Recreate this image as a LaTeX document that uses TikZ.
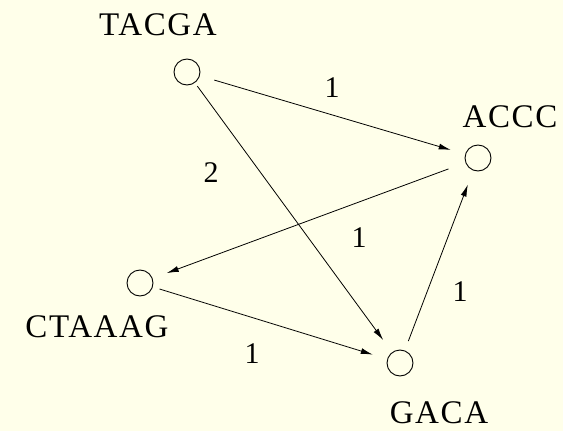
\documentclass[tikz,border=0pt]{standalone}
\usepackage{fontspec}
\setmainfont{Liberation Serif}
\newfontfamily\seqfont[LetterSpace=5]{Liberation Serif}
\usetikzlibrary{arrows.meta}
\definecolor{paper}{RGB}{255,255,234}

\begin{document}
\begin{tikzpicture}[x=1pt, y=-1pt, >={Latex[length=12pt,width=6pt]},
    vertex/.style={circle, draw, line width=0.9pt, minimum size=26pt, inner sep=0pt},
    seqname/.style={anchor=base, inner sep=0pt, font=\seqfont\fontsize{33}{36}\selectfont},
    weight/.style={anchor=base, inner sep=0pt, font=\fontsize{30}{34}\selectfont},
    edge/.style={->, line width=0.8pt, shorten >=15pt}]
    % Hintergrund
    \useasboundingbox (0,0) rectangle (563,431);
    \fill[paper] (0,0) rectangle (563,431);

    % Knoten
    \node[vertex] (tacga)  at (187,72)  {};
    \node[vertex] (accc)   at (478,158) {};
    \node[vertex] (ctaaag) at (140,283) {};
    \node[vertex] (gaca)   at (400,363) {};

    % Beschriftungen
    \node[seqname] (ltacga)  at (158,35)  {TACGA};
    \node[seqname] (laccc)   at (510,127) {ACCC};
    \node[seqname] (lctaaag) at (97,337)  {CTAAAG};
    \node[seqname] (lgaca)   at (439,423) {GACA};

    % Kanten
    \draw[edge, shorten <=15pt] (tacga) -- (accc);
    \draw[edge, shorten <=4pt]  (tacga) -- (gaca);
    \draw[edge, shorten <=18pt] (accc) -- (ctaaag);
    \draw[edge, shorten <=7pt]  (ctaaag) -- (gaca);
    \draw[edge, shorten <=10pt] (gaca) -- (accc);

    % Gewichte
    \node[weight] (w1) at (332,97)  {1};
    \node[weight] (w2) at (211,182) {2};
    \node[weight] (w3) at (359,247) {1};
    \node[weight] (w4) at (252,363) {1};
    \node[weight] (w5) at (460,301) {1};
\end{tikzpicture}
\end{document}
